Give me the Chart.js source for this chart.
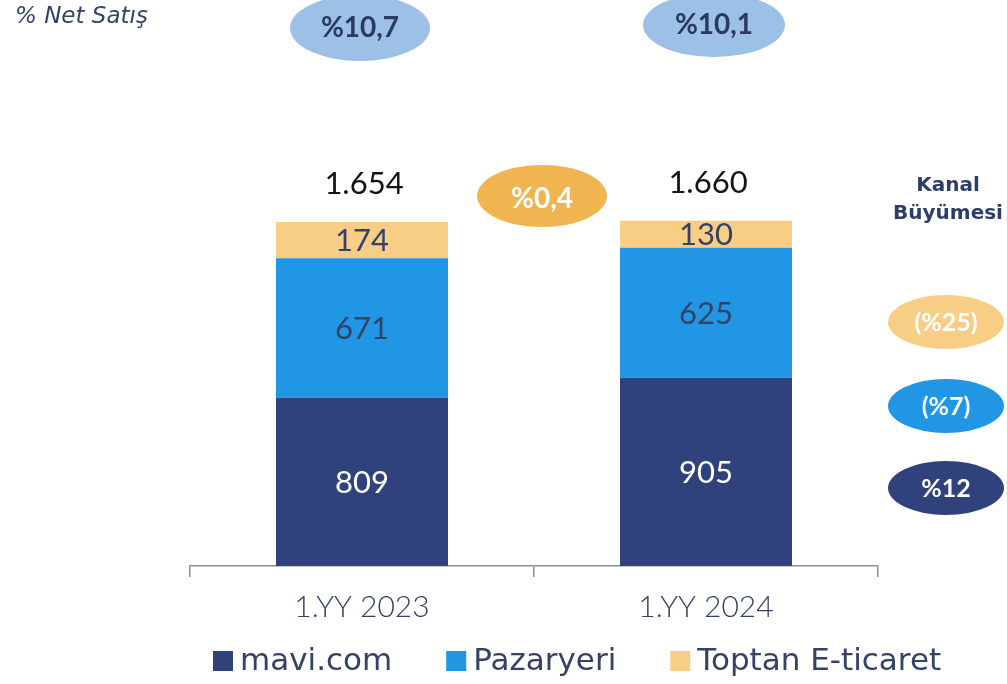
<!DOCTYPE html>
<html>
<head>
<meta charset="utf-8">
<script src="https://cdn.jsdelivr.net/npm/chart.js@4.4.1/dist/chart.umd.min.js"></script>
<style>
html,body{margin:0;padding:0;background:#fff;}
#wrap{position:relative;width:1007px;height:684px;}
</style>
</head>
<body>
<div id="wrap"><canvas id="c"></canvas></div>
<script>
// ---- data ----
const categories = ['1.YY 2023', '1.YY 2024'];
const seriesNames = ['mavi.com', 'Pazaryeri', 'Toptan E-ticaret'];
const maviCom = [809, 905];
const pazaryeri = [671, 625];
const toptanEticaret = [174, 130];
const netSalesPct = ['%10,7', '%10,1'];
const totalGrowth = '%0,4';
const channelGrowth = ['%12', '(%7)', '(%25)'];
const netSalesTitle = '% Net Satış';
const channelTitle = ['Kanal', 'Büyümesi'];

// ---- style ----
const NAVY = '#2F427B', BLUE = '#2196E5', SAND = '#F8CE86';
const TXT = '#344266';
const LATO = 'Lato, "Open Sans", sans-serif';
const DEJA = '"DejaVu Sans", sans-serif';

function fmtTR(n){ return String(n).replace(/\B(?=(\d{3})+(?!\d))/g, '.'); }

function ellipse(ctx, cx, cy, rx, ry, fill){
  ctx.beginPath(); ctx.ellipse(cx, cy, rx, ry, 0, 0, Math.PI*2);
  ctx.fillStyle = fill; ctx.fill();
}
function text(ctx, s, x, y, font, color, align){
  ctx.font = font; ctx.fillStyle = color; ctx.textAlign = align || 'center';
  ctx.textBaseline = 'middle'; ctx.fillText(s, x, y);
}

const overlay = {
  id: 'overlay',
  afterDatasetsDraw(chart){
    const ctx = chart.ctx; ctx.save();
    const metas = chart.data.datasets.map((d, i) => chart.getDatasetMeta(i));
    // values inside segments
    metas.forEach((meta, di) => {
      meta.data.forEach((bar, i) => {
        const v = chart.data.datasets[di].data[i];
        const y = (bar.y + bar.base) / 2;
        text(ctx, fmtTR(v), bar.x, y + 1, '31px ' + LATO, di === 0 ? '#FFFFFF' : TXT);
      });
    });
    // totals above bars
    const top = metas[metas.length - 1];
    top.data.forEach((bar, i) => {
      const tot = chart.data.datasets.reduce((s, d) => s + d.data[i], 0);
      text(ctx, fmtTR(tot), bar.x + 2, bar.y - 38, '31px ' + LATO, '#141414');
    });
    // net sales ellipses
    const bx = top.data.map(b => b.x);
    const netPos = [[bx[0] - 2, 28, 70, 33], [bx[1] + 8, 25, 71, 32]];
    netSalesPct.forEach((s, i) => {
      const p = netPos[i];
      ellipse(ctx, p[0], p[1], p[2], p[3], '#9DC0E7');
      text(ctx, s, p[0], p[1], 'bold 28px ' + LATO, '#2A3A62');
    });
    // total growth ellipse
    const gx = (bx[0] + bx[1]) / 2 + 8;
    ellipse(ctx, gx, 196, 65, 31, '#F0B550');
    text(ctx, totalGrowth, gx, 199, 'bold 28px ' + LATO, '#FFFFFF');
    // title
    text(ctx, netSalesTitle, 15, 17, 'oblique 23px ' + DEJA, TXT, 'left');
    // channel growth
    text(ctx, channelTitle[0], 948, 186, 'bold 20px ' + DEJA, '#2E3D68');
    text(ctx, channelTitle[1], 948, 214, 'bold 20px ' + DEJA, '#2E3D68');
    const chY = [488, 406, 322];
    const chC = [NAVY, BLUE, SAND];
    channelGrowth.forEach((s, i) => {
      ellipse(ctx, 946, chY[i], 58, 27, chC[i]);
      text(ctx, s, 946, chY[i] + 1, 'bold 25px ' + LATO, '#FFFFFF');
    });
    // legend
    ctx.font = '31px ' + DEJA;
    let x = 213;
    chart.data.datasets.forEach((d) => {
      ctx.fillStyle = d.backgroundColor;
      ctx.fillRect(x, 651, 20, 20);
      text(ctx, d.label, x + 27, 662, '31px ' + DEJA, TXT, 'left');
      ctx.font = '31px ' + DEJA;
      x += 27 + ctx.measureText(d.label).width + 54;
    });
    ctx.restore();
  }
};

new Chart(document.getElementById('c'), {
  type: 'bar',
  data: {
    labels: categories,
    datasets: [
      { label: seriesNames[0], data: maviCom, backgroundColor: NAVY },
      { label: seriesNames[1], data: pazaryeri, backgroundColor: BLUE },
      { label: seriesNames[2], data: toptanEticaret, backgroundColor: SAND }
    ]
  },
  options: {
    responsive: true,
    maintainAspectRatio: false,
    animation: false,
    events: [],
    layout: { padding: { left: 190, right: 129, top: 46, bottom: 0 } },
    datasets: { bar: { categoryPercentage: 1.0, barPercentage: 0.5 } },
    plugins: { legend: { display: false }, tooltip: { enabled: false } },
    scales: {
      x: {
        stacked: true,
        grid: { offset: true, drawOnChartArea: false, drawTicks: true, tickLength: 11, color: '#8E8E8E', lineWidth: 1.5 },
        border: { display: true, color: '#8E8E8E', width: 1.5 },
        ticks: { font: { family: LATO, size: 30, weight: '300' }, color: TXT, padding: 12 },
        afterFit(scale){ scale.height = 118; }
      },
      y: { stacked: true, display: false, min: 0, max: 2500 }
    }
  },
  plugins: [overlay]
});
</script>
</body>
</html>
